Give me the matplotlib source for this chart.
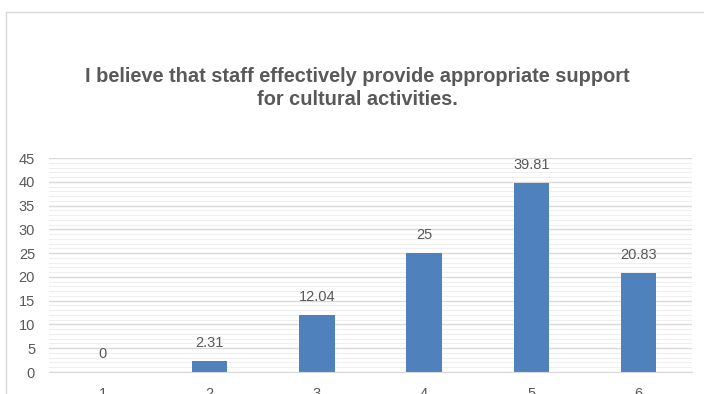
import matplotlib.pyplot as plt
from matplotlib.patches import Rectangle
from matplotlib.ticker import MultipleLocator

# Survey responses, percent per rating
ratings = [1, 2, 3, 4, 5, 6]
percent = [0, 2.31, 12.04, 25, 39.81, 20.83]
title = "I believe that staff effectively provide appropriate support\nfor cultural activities."

grey = "#595959"
bar_colour = "#4f81bd"

plt.rcParams['font.family'] = ['Liberation Sans', 'DejaVu Sans']

fig = plt.figure(figsize=(7.04, 3.94), dpi=100)

# chart frame
fig.patches.append(Rectangle((6 / 704, -0.1), 2, (394 - 12) / 394 + 0.1,
                             transform=fig.transFigure, fill=False,
                             edgecolor="#d9d9d9", linewidth=1.0))

ax = fig.add_axes([49 / 704, 22 / 394, (692 - 49) / 704, (372 - 158) / 394])

bars = ax.bar(ratings, percent, width=0.33, color=bar_colour, zorder=3)
for x, v in zip(ratings, percent):
    ax.annotate(f"{v:g}", (x, v), xytext=(0, 13), textcoords="offset points",
                ha="center", va="center", fontsize=10.5, color=grey)

ax.set_xlim(0.5, 6.5)
ax.set_ylim(0, 45)
ax.set_xticks(ratings)
ax.yaxis.set_major_locator(MultipleLocator(5))
ax.yaxis.set_minor_locator(MultipleLocator(1))
ax.grid(axis="y", which="major", color="#d9d9d9", linewidth=1.0, zorder=0)
ax.grid(axis="y", which="minor", color="#efefef", linewidth=0.8, zorder=0)

for side in ["top", "right", "left"]:
    ax.spines[side].set_visible(False)
ax.spines["bottom"].set_color("#d9d9d9")
ax.spines["bottom"].set_zorder(4)

ax.tick_params(axis="both", which="both", length=0, labelsize=10.5, labelcolor=grey)
ax.tick_params(axis="y", pad=10)
ax.tick_params(axis="x", pad=11)

fig.text(357 / 704, 1 - 88 / 394, title, ha="center", va="center",
         fontsize=14.4, fontweight="bold", color=grey, linespacing=1.25)

fig.savefig("out.png", dpi=100)
